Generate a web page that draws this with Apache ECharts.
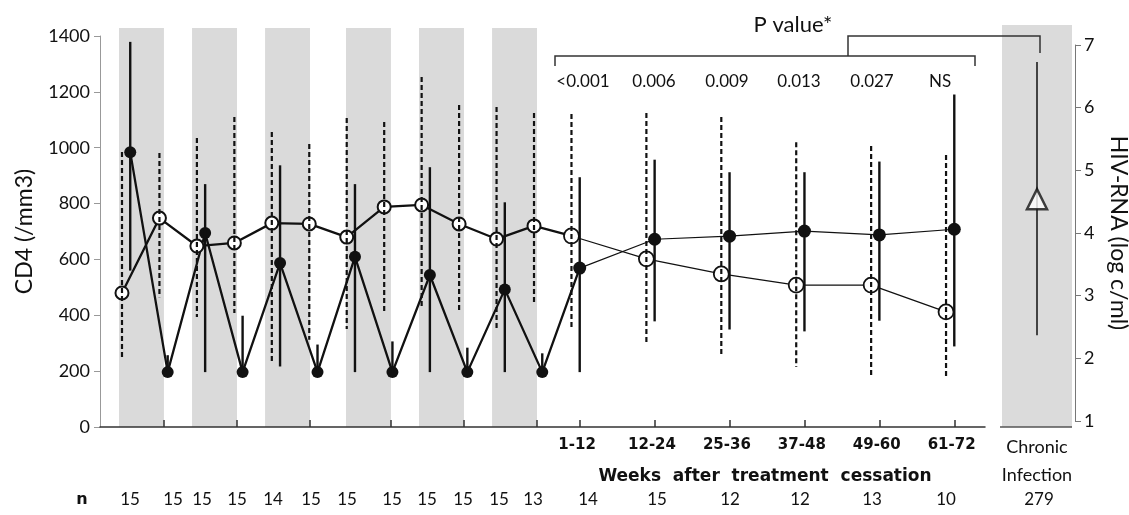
<!DOCTYPE html>
<html>
<head>
<meta charset="utf-8">
<script src="https://cdn.jsdelivr.net/npm/echarts@6/dist/echarts.min.js"></script>
<style>
  html, body { margin: 0; padding: 0; background: #fff; }
  #chart { width: 1129px; height: 515px; }
</style>
</head>
<body>
<div id="chart"></div>
<script>
// time points: 12 on/off visits, then the 6 windows after treatment cessation
const visitX = [0, 1, 2, 3, 4, 5, 6, 7, 8, 9, 10, 11, 12, 14, 16, 18, 20, 22]
const weekLabels = ['1-12', '12-24', '25-36', '37-48', '49-60', '61-72']
const nCounts = ['15', '15', '15', '15', '14', '15', '15', '15', '15', '15', '15', '13', '14', '15', '12', '12', '13', '10']
const chronicLabel = 'Chronic\nInfection'
const chronicN = '279'
const pValues = ['<0.001', '0.006', '0.009', '0.013', '0.027', 'NS']

// CD4 (/mm3)
const cd4 = [480, 748, 648, 659, 730, 727, 680, 788, 795, 727, 673, 720, 684, 602, 548, 508, 508, 412]
const cd4Low = [251, 465, 394, 408, 236, 312, 351, 415, 430, 415, 354, 437, 354, 304, 251, 215, 183, 183]
const cd4High = [985, 981, 1035, 1110, 1056, 1013, 1106, 1092, 1253, 1153, 1146, 1124, 1121, 1124, 1110, 1020, 1006, 974]

// HIV-RNA (log c/ml)
const rna = [5.29, 1.78, 4.0, 1.78, 3.52, 1.78, 3.62, 1.78, 3.33, 1.78, 3.1, 1.78, 3.44, 3.9, 3.95, 4.03, 3.97, 4.06]
const rnaLow = [3.4, 1.78, 1.78, 1.78, 1.87, 1.78, 1.78, 1.78, 1.78, 1.78, 1.78, 1.78, 1.78, 2.59, 2.46, 2.43, 2.6, 2.19]
const rnaHigh = [7.05, 2.05, 4.78, 2.68, 5.08, 2.22, 4.78, 2.27, 5.05, 2.17, 4.49, 2.08, 4.89, 5.17, 4.97, 4.97, 5.14, 6.21]

const chronicRna = 4.54
const chronicLow = 2.37
const chronicHigh = 6.73

// treatment periods (grey bands)
const treatBands = [[-0.08, 1.12], [1.87, 3.07], [3.82, 5.02], [5.98, 7.18], [7.93, 9.13], [9.88, 11.08]]

// layout
const rnaShift = 0.22
const preTicks = [1.12, 3.07, 5.02, 7.18, 9.13, 11.08]
const postTicks = visitX.slice(12).map((x) => x + rnaShift)
const weekLabelPos = visitX.slice(12).map((x) => x + 0.15)
const nX = [130, 173, 202, 237, 273, 311, 347, 392, 427, 463, 499, 533, 588, 657, 730, 800, 872, 946]
const pX = [583, 654, 727, 799, 872, 940]
const FONT = 'Lato'
const INK = '#111'

const chart = echarts.init(document.getElementById('chart'))

function errorBars(xIdx, yIdx, data, dashed, width) {
  return {
    type: 'custom',
    xAxisIndex: xIdx,
    yAxisIndex: yIdx,
    silent: true,
    z: 5,
    encode: { x: 0, y: [1, 2] },
    renderItem(params, api) {
      const top = api.coord([api.value(0), api.value(2)])
      const bot = api.coord([api.value(0), api.value(1)])
      return {
        type: 'line',
        shape: { x1: top[0], y1: top[1], x2: bot[0], y2: bot[1] },
        style: { stroke: INK, lineWidth: width, lineDash: dashed ? [5, 3] : null }
      }
    },
    data
  }
}

const cdPts = visitX.map((x, i) => [x, cd4[i]])
const rnaPts = visitX.map((x, i) => [x + rnaShift, rna[i]])

function txt(text, x, y, size, opts = {}) {
  return {
    type: 'text',
    x,
    y,
    z: 10,
    silent: true,
    style: Object.assign({
      text,
      fill: INK,
      fontSize: size,
      fontFamily: FONT,
      align: 'center',
      verticalAlign: 'middle',
      textAlign: 'center',
      textVerticalAlign: 'middle'
    }, opts)
  }
}

const graphics = [
  { type: 'polyline', z: 10, silent: true, shape: { points: [[555, 66], [555, 56], [975, 56], [975, 66]] }, style: { stroke: '#333', lineWidth: 1.5, fill: null } },
  { type: 'polyline', z: 10, silent: true, shape: { points: [[848, 56], [848, 36], [1040, 36], [1040, 53]] }, style: { stroke: '#333', lineWidth: 1.5, fill: null } },
  txt('P value*', 793, 25, 22),
  txt('Weeks  after  treatment  cessation', 765, 477, 17, { fontFamily: 'DejaVu Sans', fontWeight: 'bold' }),
  txt('n', 82, 500, 16, { fontFamily: 'DejaVu Sans', fontWeight: 'bold' }),
  txt(chronicN, 1039, 500, 17)
]
pValues.forEach((p, i) => graphics.push(txt(p, pX[i], 82, 17)))
nCounts.forEach((n, i) => graphics.push(txt(n, nX[i], 500, 17)))

chart.setOption({
  animation: false,
  textStyle: { fontFamily: FONT, color: INK },
  grid: [
    { left: 100, right: 144, top: 36, bottom: 88, outerBoundsMode: 'none' },
    { left: 100, right: 144, top: 45, bottom: 94, outerBoundsMode: 'none' },
    { left: 1002, right: 57, top: 45, bottom: 94, outerBoundsMode: 'none' }
  ],
  xAxis: [
    {
      gridIndex: 0,
      type: 'value',
      min: -0.587,
      max: 23.04,
      z: 4,
      splitLine: { show: false },
      axisLine: { onZero: false, lineStyle: { color: '#333', width: 1.5 } },
      axisTick: {
        inside: true,
        length: 7,
        customValues: preTicks.concat(postTicks),
        lineStyle: { color: '#333', width: 1.5 }
      },
      axisLabel: {
        customValues: weekLabelPos,
        formatter: (v) => {
          const i = weekLabelPos.findIndex((p) => Math.abs(p - v) < 0.01)
          return i < 0 ? '' : weekLabels[i]
        },
        fontFamily: 'DejaVu Sans',
        fontWeight: 'bold',
        fontSize: 15,
        color: INK,
        margin: 11
      }
    },
    { gridIndex: 1, type: 'value', min: -0.587, max: 23.04, show: false, axisLine: { onZero: false } },
    {
      gridIndex: 2,
      type: 'category',
      data: [chronicLabel],
      axisLine: { show: false, onZero: false },
      axisTick: { show: false },
      axisLabel: { fontSize: 18, lineHeight: 28, margin: 12, color: INK }
    }
  ],
  yAxis: [
    {
      gridIndex: 0,
      type: 'value',
      min: 0,
      max: 1400,
      interval: 200,
      name: 'CD4 (/mm3)',
      nameLocation: 'middle',
      nameGap: 64,
      nameTextStyle: { fontSize: 23, color: INK },
      splitLine: { show: false },
      axisLine: { show: true, onZero: false, lineStyle: { color: '#999' } },
      axisTick: { show: true, length: 6, lineStyle: { color: '#999' } },
      axisLabel: { fontSize: 18, margin: 10, color: INK, formatter: (v) => String(v) }
    },
    {
      gridIndex: 1,
      type: 'value',
      position: 'right',
      offset: 90,
      z: 5,
      min: 1,
      max: 7,
      interval: 1,
      name: 'HIV-RNA (log c/ml)',
      nameLocation: 'middle',
      nameRotate: -90,
      nameGap: 32,
      nameTextStyle: { fontSize: 23, color: INK },
      splitLine: { show: false },
      axisLine: { show: true, onZero: false, lineStyle: { color: '#777' } },
      axisTick: { show: true, length: 6, lineStyle: { color: '#777' } },
      axisLabel: { fontSize: 18, margin: 9, color: INK }
    },
    { gridIndex: 2, type: 'value', min: 1, max: 7, show: false, axisLine: { onZero: false } }
  ],
  graphic: graphics,
  series: [
    {
      // shaded treatment periods
      type: 'custom',
      xAxisIndex: 0,
      yAxisIndex: 0,
      silent: true,
      clip: false,
      z: 1,
      encode: { x: [0, 1] },
      renderItem(params, api) {
        const cs = params.coordSys
        const a = api.coord([api.value(0), 0])
        const b = api.coord([api.value(1), 0])
        return {
          type: 'rect',
          shape: { x: a[0], y: cs.y - 8, width: b[0] - a[0], height: cs.height + 8 },
          style: { fill: '#dadada' }
        }
      },
      data: treatBands
    },
    {
      // chronic infection panel
      type: 'custom',
      xAxisIndex: 2,
      yAxisIndex: 2,
      silent: true,
      clip: false,
      z: 1,
      renderItem(params, api) {
        const cs = params.coordSys
        return {
          type: 'group',
          children: [
            { type: 'rect', shape: { x: cs.x, y: cs.y - 20, width: cs.width, height: cs.height + 26 }, style: { fill: '#dbdbdb' } },
            { type: 'line', shape: { x1: cs.x - 2, y1: cs.y + cs.height + 6, x2: cs.x + cs.width, y2: cs.y + cs.height + 6 }, style: { stroke: '#555', lineWidth: 1.5 } }
          ]
        }
      },
      data: [[0]]
    },
    {
      type: 'line',
      xAxisIndex: 0,
      yAxisIndex: 0,
      z: 3,
      data: cdPts.slice(0, 13).map((p, i) => (i === 12 ? { value: p, symbol: 'none' } : p)),
      symbol: 'circle',
      symbolSize: 13,
      lineStyle: { color: INK, width: 2.3 },
      itemStyle: { color: '#fff', borderColor: INK, borderWidth: 2 }
    },
    {
      type: 'line',
      xAxisIndex: 0,
      yAxisIndex: 0,
      z: 3,
      data: cdPts.slice(12),
      symbol: 'circle',
      symbolSize: 15,
      lineStyle: { color: INK, width: 1.2 },
      itemStyle: { color: '#fff', borderColor: INK, borderWidth: 1.8 }
    },
    {
      type: 'line',
      xAxisIndex: 1,
      yAxisIndex: 1,
      z: 3,
      data: rnaPts.slice(0, 13).map((p, i) => (i === 12 ? { value: p, symbol: 'none' } : p)),
      symbol: 'circle',
      symbolSize: 12,
      lineStyle: { color: INK, width: 2.3 },
      itemStyle: { color: INK }
    },
    {
      type: 'line',
      xAxisIndex: 1,
      yAxisIndex: 1,
      z: 3,
      data: rnaPts.slice(12),
      symbol: 'circle',
      symbolSize: 13,
      lineStyle: { color: INK, width: 1.2 },
      itemStyle: { color: INK }
    },
    errorBars(0, 0, visitX.map((x, i) => [x, cd4Low[i], cd4High[i]]), true, 2.2),
    errorBars(1, 1, visitX.map((x, i) => [x + rnaShift, rnaLow[i], rnaHigh[i]]), false, 2.4),
    {
      type: 'custom',
      xAxisIndex: 2,
      yAxisIndex: 2,
      silent: true,
      z: 5,
      renderItem(params, api) {
        const top = api.coord([0, api.value(1)])
        const bot = api.coord([0, api.value(0)])
        return { type: 'line', shape: { x1: top[0], y1: top[1], x2: bot[0], y2: bot[1] }, style: { stroke: INK, lineWidth: 1.5 } }
      },
      data: [[chronicLow, chronicHigh]]
    },
    {
      type: 'scatter',
      xAxisIndex: 2,
      yAxisIndex: 2,
      z: 6,
      symbol: 'triangle',
      symbolSize: 20,
      itemStyle: { color: '#fff', borderColor: INK, borderWidth: 2.5 },
      data: [[chronicLabel, chronicRna]]
    }
  ]
})
</script>
</body>
</html>
